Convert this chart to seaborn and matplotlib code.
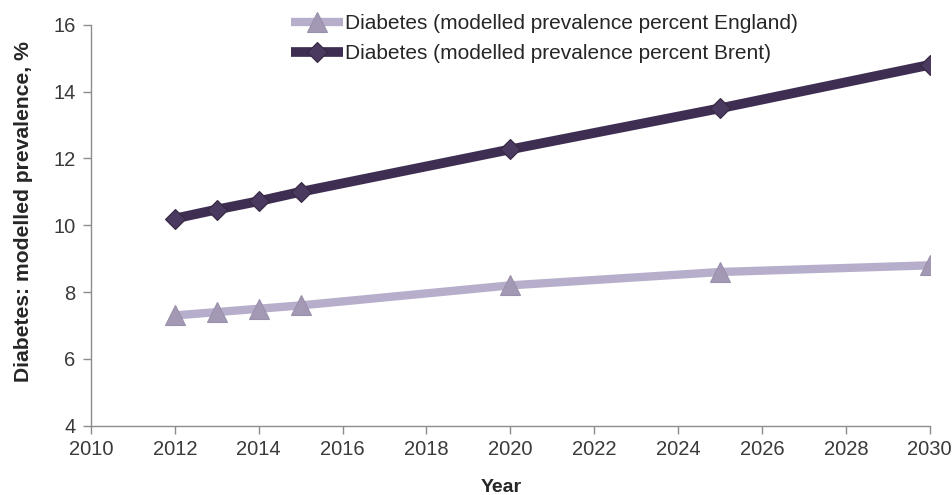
import matplotlib
matplotlib.use("Agg")
import matplotlib.pyplot as plt
import seaborn as sns
import pandas as pd

years = [2012, 2013, 2014, 2015, 2020, 2025, 2030]
england = [7.3, 7.4, 7.5, 7.6, 8.2, 8.6, 8.8]
brent = [10.2, 10.47, 10.72, 11.0, 12.27, 13.5, 14.8]
label_england = "Diabetes (modelled prevalence percent England)"
label_brent = "Diabetes (modelled prevalence percent Brent)"

sns.set_theme(style="white")
plt.rcParams["font.family"] = ["Liberation Sans", "DejaVu Sans"]

df = pd.DataFrame({
    "Year": years * 2,
    "value": england + brent,
    "series": [label_england] * len(years) + [label_brent] * len(years),
})

fig = plt.figure(figsize=(9.52, 4.95), dpi=100)
ax = fig.add_axes([0.0956, 0.14, 0.881, 0.81])

styles = {
    label_england: dict(color="#b6aecb", marker="^", markersize=15,
                        markerfacecolor="#a399b4", markeredgecolor="#9a90ab",
                        markeredgewidth=0.8, linewidth=6),
    label_brent: dict(color="#3e2f52", marker="D", markersize=10.5,
                      markerfacecolor="#4a3a60", markeredgecolor="#35283f",
                      markeredgewidth=0.8, linewidth=7),
}
for name in [label_england, label_brent]:
    sub = df[df["series"] == name]
    sns.lineplot(data=sub, x="Year", y="value", ax=ax, label=name,
                 solid_capstyle="butt", **styles[name])

ax.set_xlim(2010, 2030)
ax.set_ylim(4, 16)
ax.set_xticks(range(2010, 2031, 2))
ax.set_yticks(range(4, 17, 2))

for side in ["top", "right"]:
    ax.spines[side].set_visible(False)
for side in ["left", "bottom"]:
    ax.spines[side].set_color("#8c8c8c")
    ax.spines[side].set_linewidth(1.0)

ax.tick_params(axis="both", which="major", bottom=True, left=True, direction="out",
               length=6, width=1, color="#8c8c8c",
               labelsize=14.5, labelcolor="#3a3a3a")
ax.tick_params(axis="x", pad=4)
ax.tick_params(axis="y", pad=5)

ax.set_xlabel("Year", fontsize=14, fontweight="bold", color="#262626")
ax.set_ylabel("Diabetes: modelled prevalence, %", fontsize=15.2, fontweight="bold",
              color="#262626")
ax.xaxis.set_label_coords(0.489, -0.132)
ax.yaxis.set_label_coords(-0.069, 0.533)

ax.legend(loc="upper left", bbox_to_anchor=(0.229, 1.048), frameon=False,
          fontsize=15, handlelength=2.5, handletextpad=0.05, labelspacing=0.55,
          labelcolor="#262626", borderaxespad=0)

fig.savefig("out.png", dpi=100)
